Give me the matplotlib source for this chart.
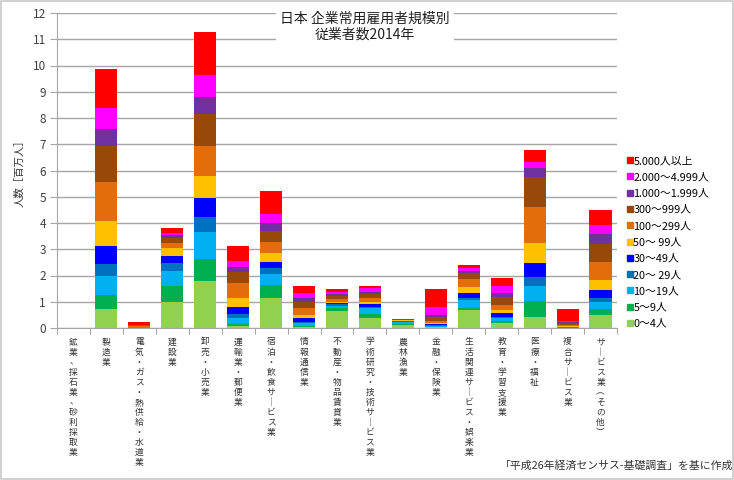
import matplotlib
matplotlib.use("Agg")
import matplotlib.pyplot as plt
import matplotlib.transforms as mtransforms
from matplotlib.lines import Line2D
from matplotlib.patches import Rectangle
import numpy as np

plt.rcParams['font.family'] = ['Noto Sans CJK JP', 'DejaVu Sans']

# 産業分類
industries = [
    "鉱業、採石業、砂利採取業",
    "製造業",
    "電気・ガス・熱供給・水道業",
    "建設業",
    "卸売・小売業",
    "運輸業・郵便業",
    "宿泊・飲食サービス業",
    "情報通信業",
    "不動産・物品賃貸業",
    "学術研究・技術サービス業",
    "農林漁業",
    "金融・保険業",
    "生活関連サービス・娯楽業",
    "教育・学習支援業",
    "医療・福祉",
    "複合サービス業",
    "サービス業（その他）",
]

# 規模別従業者数 [百万人]
s0_4 = [0.0, 0.73, 0.005, 0.98, 1.80, 0.08, 1.16, 0.05, 0.66, 0.39, 0.10, 0.02, 0.70, 0.18, 0.43, 0.01, 0.49]
s5_9 = [0.0, 0.51, 0.005, 0.63, 0.81, 0.07, 0.48, 0.04, 0.09, 0.14, 0.06, 0.02, 0.06, 0.09, 0.60, 0.01, 0.23]
s10_19 = [0.0, 0.74, 0.01, 0.57, 1.06, 0.22, 0.42, 0.09, 0.10, 0.22, 0.06, 0.03, 0.30, 0.10, 0.58, 0.01, 0.26]
s20_29 = [0.0, 0.44, 0.005, 0.28, 0.57, 0.16, 0.21, 0.06, 0.05, 0.06, 0.03, 0.05, 0.08, 0.06, 0.34, 0.01, 0.15]
s30_49 = [0.0, 0.70, 0.01, 0.29, 0.72, 0.28, 0.25, 0.13, 0.05, 0.09, 0.03, 0.04, 0.18, 0.13, 0.51, 0.01, 0.32]
s50_99 = [0.0, 0.95, 0.01, 0.28, 0.83, 0.32, 0.32, 0.12, 0.05, 0.10, 0.02, 0.04, 0.25, 0.13, 0.76, 0.01, 0.38]
s100_299 = [0.0, 1.50, 0.02, 0.22, 1.16, 0.57, 0.45, 0.26, 0.10, 0.13, 0.02, 0.08, 0.28, 0.19, 1.40, 0.05, 0.67]
s300_999 = [0.0, 1.36, 0.02, 0.19, 1.22, 0.44, 0.41, 0.25, 0.12, 0.16, 0.01, 0.13, 0.23, 0.31, 1.12, 0.09, 0.70]
s1000_1999 = [0.0, 0.67, 0.01, 0.10, 0.64, 0.19, 0.31, 0.13, 0.08, 0.09, 0.005, 0.09, 0.10, 0.13, 0.34, 0.03, 0.38]
s2000_4999 = [0.0, 0.79, 0.02, 0.09, 0.83, 0.23, 0.32, 0.21, 0.08, 0.13, 0.01, 0.29, 0.12, 0.28, 0.25, 0.05, 0.34]
s5000 = [0.0, 1.46, 0.13, 0.19, 1.63, 0.56, 0.90, 0.26, 0.09, 0.10, 0.005, 0.68, 0.11, 0.29, 0.47, 0.43, 0.57]

series = [s0_4, s5_9, s10_19, s20_29, s30_49, s50_99, s100_299, s300_999, s1000_1999, s2000_4999, s5000]
size_labels = ["0～4人", "5～9人", "10～19人", "20～ 29人", "30～49人", "50～ 99人",
               "100～299人", "300～999人", "1.000～1.999人", "2.000～4.999人", "5.000人以上"]
colors = ["#92D050", "#00B050", "#00B0F0", "#0070C0", "#0000FF", "#FFC000",
          "#E46C0A", "#984807", "#7030A0", "#FF00FF", "#FF0000"]

fig = plt.figure(figsize=(7.34, 4.8), dpi=100)
ax = fig.add_axes([57 / 734, 152 / 480, 560 / 734, 315 / 480])

x = np.arange(len(industries))
bottom = np.zeros(len(industries))
for vals, col, lab in zip(series, colors, size_labels):
    ax.bar(x, vals, 0.67, bottom=bottom, color=col, label=lab, zorder=3)
    bottom += np.array(vals)

ax.set_xlim(-0.5, len(industries) - 0.5)
ax.set_ylim(0, 12)
ax.set_yticks(range(13))
ax.yaxis.grid(True, color="#A6A6A6", linewidth=1, zorder=0)
ax.tick_params(axis="y", length=5, color="#A6A6A6", labelsize=8.5, pad=3, labelcolor="#404040")
for s in ["top", "right"]:
    ax.spines[s].set_visible(False)
ax.spines["left"].set_color("#A6A6A6")
ax.spines["bottom"].set_color("#A6A6A6")

# x軸: 区切り目盛と縦書きラベル
ax.set_xticks(np.arange(-0.5, len(industries), 1.0))
ax.set_xticklabels([])
ax.tick_params(axis="x", length=4, color="#A6A6A6")
trans = mtransforms.blended_transform_factory(ax.transData, ax.transAxes)
for i, name in enumerate(industries):
    vert = "\n".join(name.replace("ー", "｜").replace("（", "︵").replace("）", "︶"))
    ax.text(i, -0.03, vert, transform=trans, ha="center", va="top",
            fontsize=6.3, linespacing=1.15, color="#333333")

ax.set_ylabel("人数［百万人］", fontsize=7.5, labelpad=6, color="#333333")

# タイトル
fig.text(365 / 734, 1 - 27 / 480, "日本 企業常用雇用者規模別\n従業者数2014年",
         ha="center", va="center", fontsize=10, linespacing=1.15, color="#222222",
         bbox=dict(facecolor="white", edgecolor="none", pad=3), zorder=10)

# 凡例
handles = [Line2D([], [], marker="s", linestyle="none", color=c, markersize=4)
           for c in colors[::-1]]
fig.legend(handles, size_labels[::-1], loc="upper left",
           bbox_to_anchor=(628 / 734, 1 - 156 / 480), frameon=False,
           fontsize=7.8, handlelength=0.4, handletextpad=0.1,
           labelspacing=0.58, borderaxespad=0, borderpad=0)

fig.text(733 / 734, 1 - 465 / 480, "「平成26年経済センサス-基礎調査」を基に作成",
         ha="right", va="center", fontsize=7.8, color="#333333")

fig.patches.append(Rectangle((0.002, 0.003), 0.996, 0.994, transform=fig.transFigure,
                             fill=False, edgecolor="#C8C8C8", linewidth=1.2))

fig.savefig("out.png", dpi=100)
